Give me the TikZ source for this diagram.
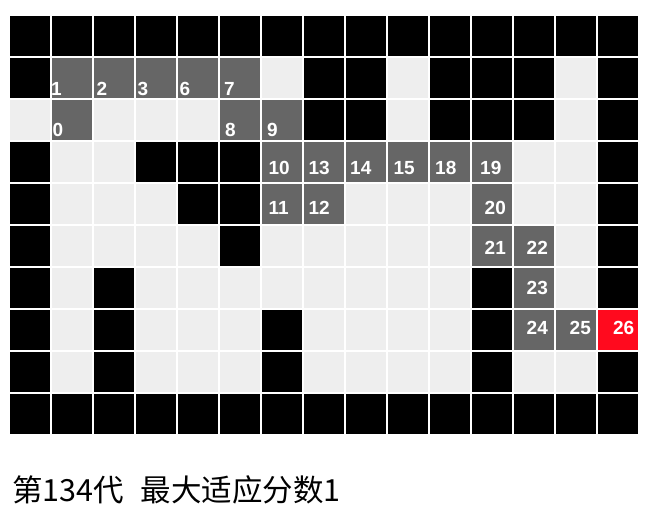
\documentclass[tikz,border=0pt]{standalone}
\usepackage{fontspec}
\usepackage{xcolor}
\usepackage{tikz}
\setmainfont{Liberation Sans}
\newfontfamily\cjk{Noto Sans CJK SC}
\definecolor{tileB}{HTML}{000000}
\definecolor{tileL}{HTML}{EEEEEE}
\definecolor{tileG}{HTML}{666666}
\definecolor{tileR}{HTML}{FF0A1E}
\tikzset{
  tile/.style={draw=none},
  num/.style={text=white, inner sep=0pt, anchor=base west, font=\bfseries\fontsize{19}{19}\selectfont},
  caption/.style={text=black, inner sep=0pt, anchor=base west, font=\cjk\fontsize{30.5}{30.5}\selectfont}
}

\begin{document}
\begin{tikzpicture}[x=1pt, y=-1pt]
  \fill[white] (0,0) rectangle (664,526);
  \useasboundingbox (0,0) rectangle (664,526);

  \def\pitch{42}
  \def\side{40}

  \foreach \cells [count=\r from 0] in {
    {B,B,B,B,B,B,B,B,B,B,B,B,B,B,B},
    {B,G,G,G,G,G,L,B,B,L,B,B,B,L,B},
    {L,G,L,L,L,G,G,B,B,L,B,B,B,L,B},
    {B,L,L,B,B,B,G,G,G,G,G,G,L,L,B},
    {B,L,L,L,B,B,G,G,L,L,L,G,L,L,B},
    {B,L,L,L,L,B,L,L,L,L,L,G,G,L,B},
    {B,L,B,L,L,L,L,L,L,L,L,B,G,L,B},
    {B,L,B,L,L,L,B,L,L,L,L,B,G,G,R},
    {B,L,B,L,L,L,B,L,L,L,L,B,L,L,B},
    {B,B,B,B,B,B,B,B,B,B,B,B,B,B,B}}{
    \foreach \c [count=\i from 0] in \cells
      \fill[tile, fill=tile\c] ({10+\pitch*\i},{16+\pitch*\r}) rectangle ++(\side,\side);
  }

  \foreach \n/\x/\y in {1/51/96, 2/96.5/96, 3/137.5/96, 6/179.5/96, 7/224/96,
      0/52.5/136.5, 8/225/136.5, 9/267/136.5,
      10/268.3/175, 13/308.3/175, 14/350/175, 15/393.3/175, 18/435/175, 19/480/175,
      11/268.3/215, 12/308.3/215, 20/484.5/215,
      21/484.5/255, 22/526.5/255, 23/526.5/295,
      24/526.5/335, 25/569.5/335, 26/612.8/335}
    \node[num] (n\n) at (\x,\y) {\n};

  \node[caption] (title) at (12,501) {第134代\hspace{0.55em}最大适应分数1};
\end{tikzpicture}
\end{document}
